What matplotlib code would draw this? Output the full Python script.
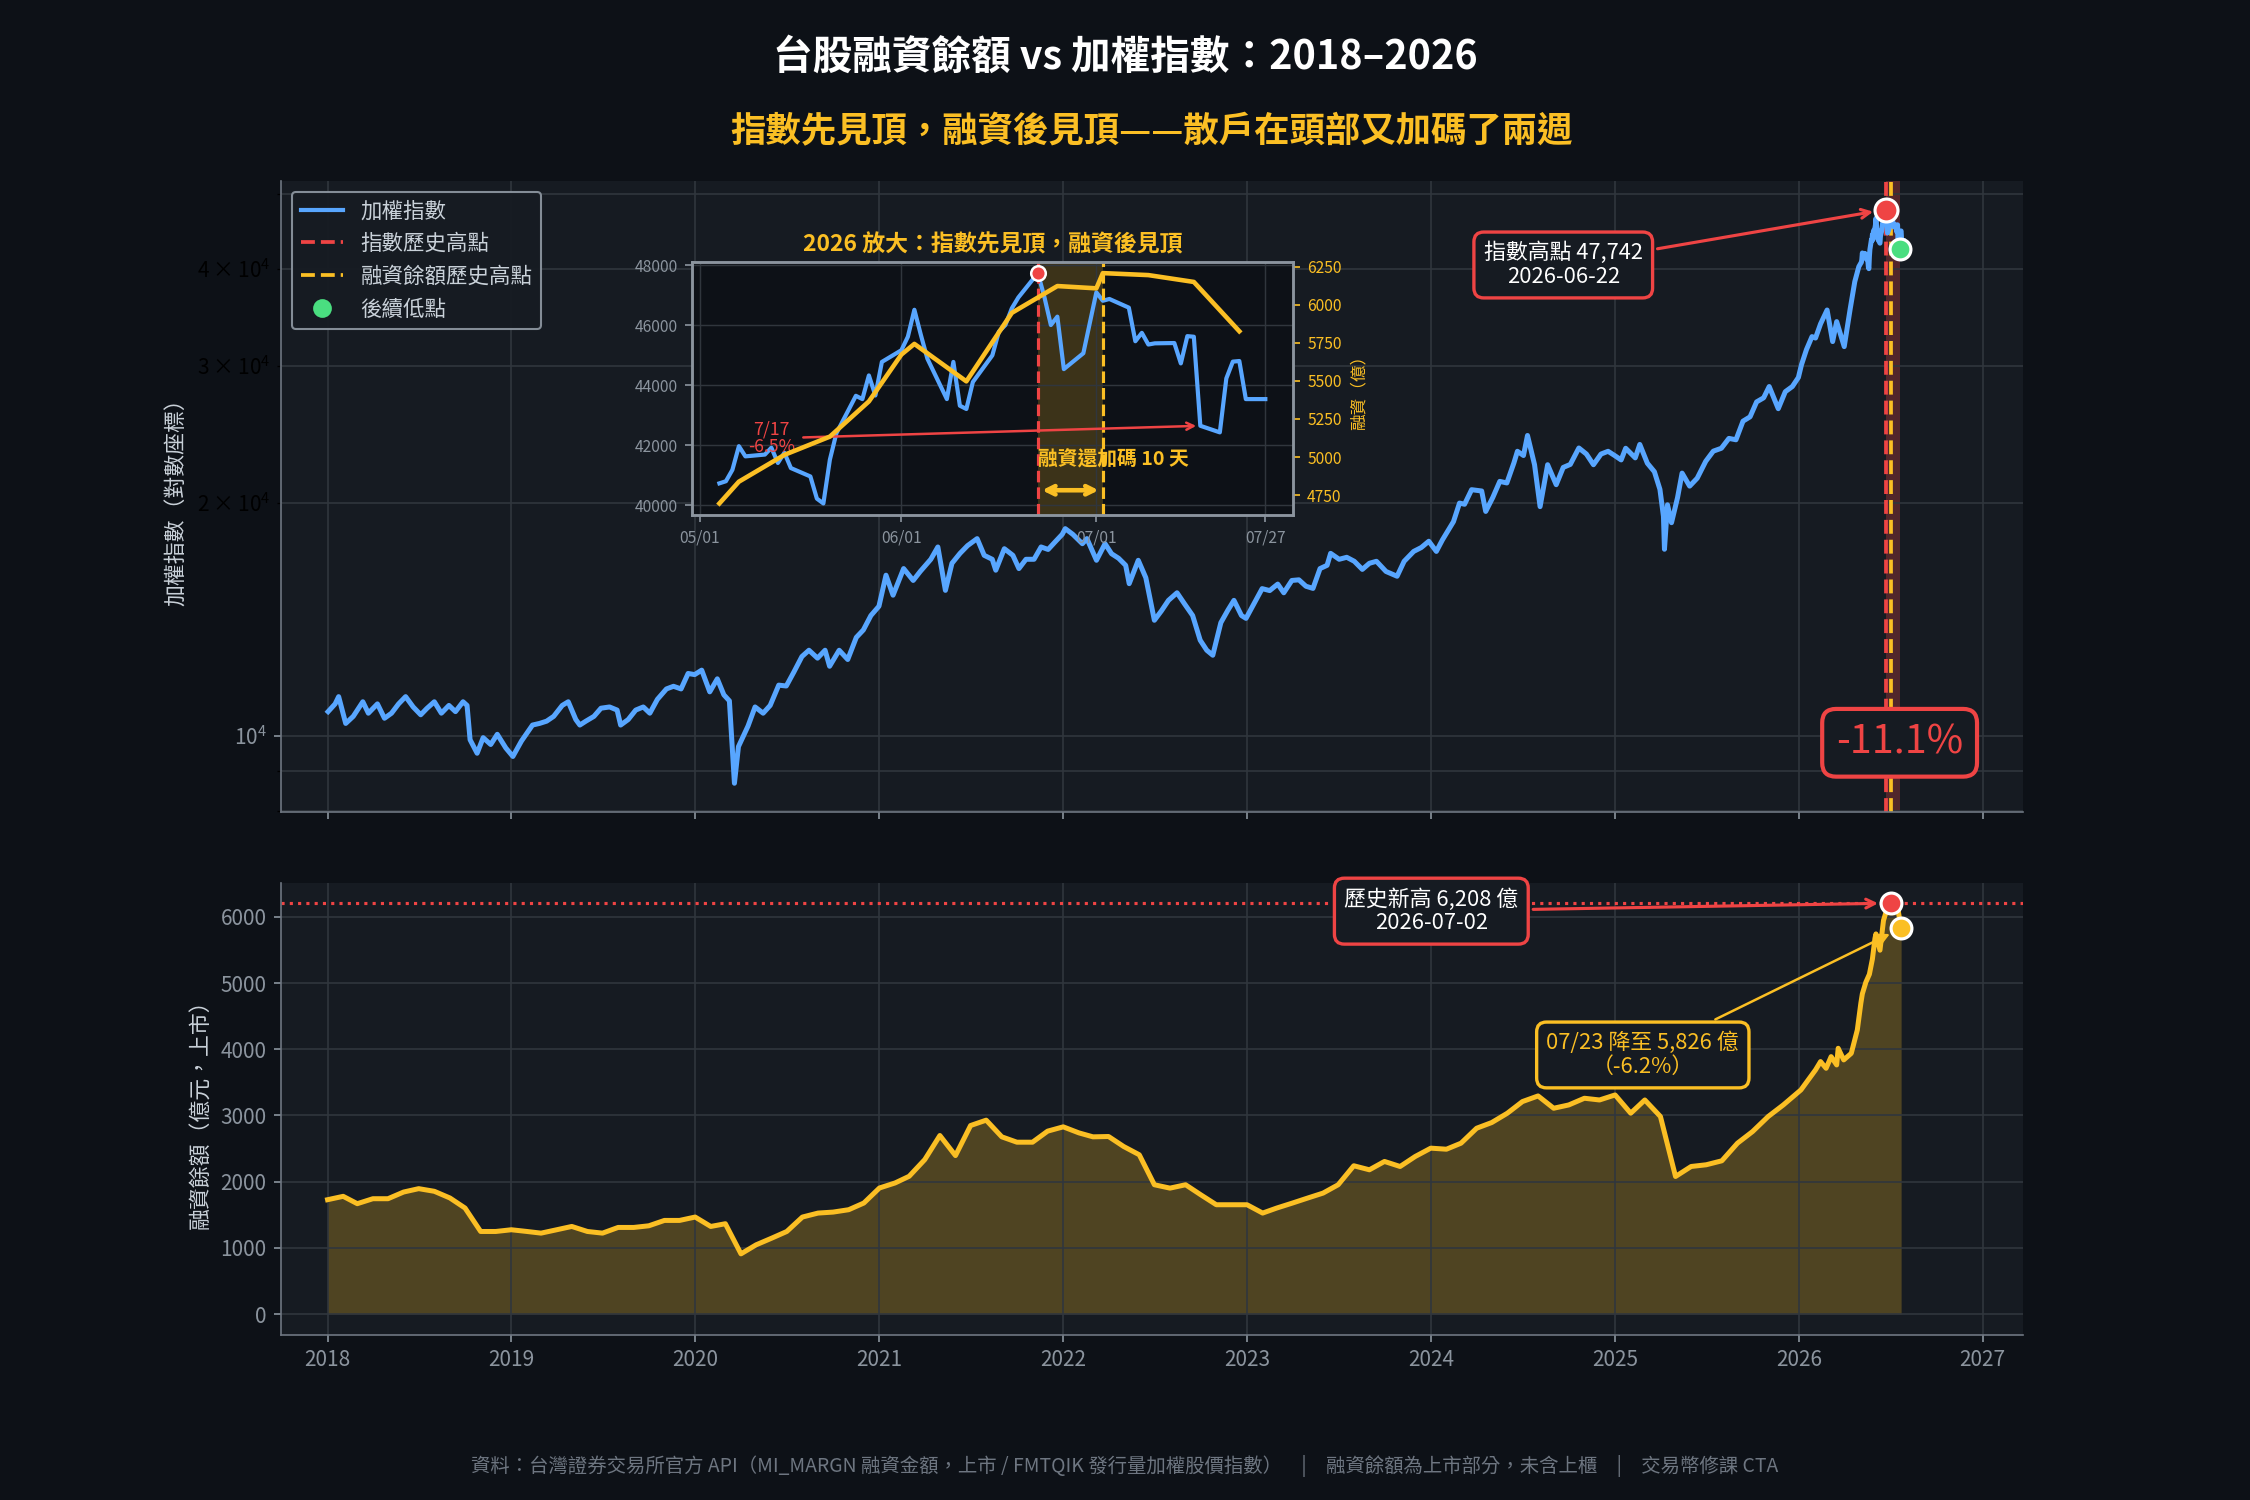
import numpy as np
import pandas as pd
import matplotlib
matplotlib.use("Agg")
import matplotlib.pyplot as plt
import matplotlib.dates as mdates
from matplotlib.lines import Line2D

plt.rcParams['font.family'] = ['Noto Sans CJK TC', 'DejaVu Sans']
plt.rcParams['axes.unicode_minus'] = False

# ---- 加權指數 ----
index_dates = [
    '2018-01-02', '2018-01-16', '2018-01-23', '2018-02-06', '2018-02-21', '2018-03-12', '2018-03-23',
    '2018-04-10', '2018-04-24', '2018-05-08', '2018-05-22', '2018-06-05', '2018-06-20', '2018-07-05',
    '2018-07-17', '2018-08-01', '2018-08-15', '2018-08-30', '2018-09-12', '2018-09-27', '2018-10-05',
    '2018-10-11', '2018-10-25', '2018-11-06', '2018-11-21', '2018-12-04', '2018-12-21',
    '2019-01-04', '2019-01-21', '2019-02-12', '2019-02-26', '2019-03-12', '2019-03-26', '2019-04-12',
    '2019-04-24', '2019-05-09', '2019-05-17', '2019-05-29', '2019-06-14', '2019-06-28', '2019-07-15',
    '2019-07-30', '2019-08-06', '2019-08-21', '2019-09-05', '2019-09-20', '2019-10-03', '2019-10-18',
    '2019-11-05', '2019-11-19', '2019-12-04', '2019-12-18', '2019-12-31',
    '2020-01-14', '2020-01-30', '2020-02-14', '2020-02-27', '2020-03-09', '2020-03-19', '2020-03-27',
    '2020-04-15', '2020-04-29', '2020-05-15', '2020-05-29', '2020-06-15', '2020-06-30', '2020-07-15',
    '2020-07-31', '2020-08-14', '2020-08-31', '2020-09-15', '2020-09-24', '2020-10-13', '2020-10-30',
    '2020-11-16', '2020-11-30', '2020-12-15', '2020-12-31',
    '2021-01-14', '2021-01-28', '2021-02-18', '2021-03-09', '2021-03-23', '2021-04-13', '2021-04-27',
    '2021-05-12', '2021-05-25', '2021-06-10', '2021-06-25', '2021-07-14', '2021-07-28', '2021-08-13',
    '2021-08-20', '2021-09-06', '2021-09-23', '2021-10-05', '2021-10-19', '2021-11-04', '2021-11-18',
    '2021-12-02', '2021-12-16', '2021-12-30',
    '2022-01-05', '2022-01-20', '2022-02-08', '2022-02-17', '2022-03-08', '2022-03-25', '2022-04-07',
    '2022-04-21', '2022-05-05', '2022-05-12', '2022-05-30', '2022-06-14', '2022-07-01', '2022-07-15',
    '2022-07-29', '2022-08-15', '2022-08-30', '2022-09-15', '2022-09-30', '2022-10-13', '2022-10-25',
    '2022-11-10', '2022-11-24', '2022-12-06', '2022-12-21', '2022-12-30',
    '2023-01-17', '2023-01-31', '2023-02-15', '2023-03-03', '2023-03-15', '2023-03-31', '2023-04-14',
    '2023-04-28', '2023-05-12', '2023-05-26', '2023-06-09', '2023-06-16', '2023-07-03', '2023-07-18',
    '2023-08-02', '2023-08-18', '2023-09-01', '2023-09-15', '2023-10-04', '2023-10-26', '2023-11-09',
    '2023-11-28', '2023-12-13', '2023-12-28',
    '2024-01-12', '2024-01-24', '2024-02-15', '2024-02-27', '2024-03-08', '2024-03-22', '2024-04-11',
    '2024-04-19', '2024-05-03', '2024-05-17', '2024-05-31', '2024-06-14', '2024-06-21', '2024-07-03',
    '2024-07-11', '2024-07-25', '2024-08-05', '2024-08-20', '2024-09-06', '2024-09-20', '2024-10-04',
    '2024-10-21', '2024-11-05', '2024-11-19', '2024-12-04', '2024-12-18', '2024-12-31',
    '2025-01-13', '2025-01-22', '2025-02-10', '2025-02-19', '2025-03-06', '2025-03-20', '2025-03-31',
    '2025-04-07', '2025-04-09', '2025-04-15', '2025-04-23', '2025-05-05', '2025-05-14', '2025-05-29',
    '2025-06-13', '2025-06-30', '2025-07-15', '2025-07-31', '2025-08-15', '2025-08-29', '2025-09-12',
    '2025-09-26', '2025-10-09', '2025-10-23', '2025-11-03', '2025-11-21', '2025-12-05', '2025-12-19',
    '2025-12-31',
    '2026-01-06', '2026-01-16', '2026-01-27', '2026-02-03', '2026-02-13', '2026-02-26', '2026-03-09',
    '2026-03-17', '2026-04-01', '2026-04-13', '2026-04-22', '2026-04-30',
    '2026-05-04', '2026-05-05', '2026-05-06', '2026-05-07', '2026-05-08', '2026-05-11', '2026-05-12',
    '2026-05-13', '2026-05-14', '2026-05-15', '2026-05-18', '2026-05-19', '2026-05-20', '2026-05-21',
    '2026-05-22', '2026-05-25', '2026-05-26', '2026-05-27', '2026-05-28', '2026-05-29', '2026-06-01',
    '2026-06-02', '2026-06-03', '2026-06-04', '2026-06-05', '2026-06-08', '2026-06-09', '2026-06-10',
    '2026-06-11', '2026-06-12', '2026-06-15', '2026-06-16', '2026-06-17', '2026-06-18', '2026-06-19',
    '2026-06-22', '2026-06-23', '2026-06-24', '2026-06-25', '2026-06-26', '2026-06-29', '2026-07-01',
    '2026-07-02', '2026-07-03', '2026-07-06', '2026-07-07', '2026-07-08', '2026-07-09', '2026-07-10',
    '2026-07-13', '2026-07-14', '2026-07-15', '2026-07-16', '2026-07-17', '2026-07-20', '2026-07-21',
    '2026-07-22', '2026-07-23', '2026-07-24', '2026-07-27',
]
index_values = [
    10750, 11000, 11240, 10380, 10600, 11070, 10700,
    11000, 10540, 10700, 11000, 11240, 10900, 10650,
    10850, 11070, 10700, 10950, 10750, 11070, 10950,
    9890, 9500, 9950, 9750, 10050, 9650,
    9410, 9850, 10330, 10380, 10450, 10600, 10950,
    11070, 10500, 10330, 10450, 10600, 10860, 10900,
    10800, 10330, 10500, 10800, 10900, 10700, 11150,
    11500, 11590, 11500, 12040, 12000,
    12160, 11400, 11850, 11300, 11100, 8690, 9690,
    10300, 10900, 10700, 10950, 11630, 11600, 12090,
    12660, 12900, 12600, 12900, 12300, 12900, 12550,
    13400, 13700, 14300, 14700,
    16120, 15190, 16440, 15870, 16300, 16900, 17530,
    15410, 16700, 17200, 17600, 17970, 17100, 16900,
    16360, 17440, 17100, 16440, 16900, 16900, 17530,
    17400, 17800, 18200,
    18510, 18200, 17700, 17970, 16850, 17700, 17180,
    16950, 16600, 15720, 16850, 16000, 14100, 14500,
    14960, 15300, 14800, 14300, 13290, 12900, 12710,
    14000, 14530, 14960, 14300, 14180,
    14900, 15490, 15400, 15700, 15300, 15870, 15900,
    15600, 15500, 16440, 16600, 17200, 16900, 17000,
    16800, 16400, 16700, 16800, 16300, 16070, 16800,
    17300, 17500, 17830,
    17300, 17900, 18900, 19970, 19900, 20780, 20700,
    19480, 20300, 21300, 21200, 22500, 23290, 23000,
    24410, 22380, 19760, 22380, 21090, 22200, 22400,
    23520, 23100, 22380, 23100, 23290, 23000,
    22700, 23500, 22840, 23770, 22480, 21920, 20800,
    19200, 17410, 19870, 18840, 20300, 21830, 21000,
    21500, 22610, 23300, 23500, 24200, 24100, 25470,
    25800, 26970, 27300, 28230, 26430, 27800, 28230,
    29000,
    30100, 31500, 32740, 32600, 34000, 35430, 32260,
    34230, 31780, 35600, 38550, 40300,
    40730, 40800, 41180, 41970, 41630, 41690, 41920,
    41410, 41750, 41240, 40960, 40220, 40060, 41520,
    42400, 43650, 43540, 44330, 43660, 44780, 45170,
    45620, 46520, 45680, 44890, 43540, 44780, 43320,
    43210, 44110, 45000, 45790, 46010, 46570, 46930,
    47742, 46950, 46010, 46290, 44540, 45070, 47100,
    46820, 46880, 46590, 45470, 45750, 45360, 45400,
    45410, 44730, 45640, 45620, 42650, 42430, 44230,
    44790, 44810, 43540, 43540,
]

# ---- 上市融資餘額 (億元) ----
margin_monthly = [
    1727, 1778, 1667, 1742, 1742, 1843, 1894, 1854, 1753, 1601, 1247, 1247,   # 2018
    1273, 1247, 1222, 1273, 1323, 1247, 1222, 1308, 1308, 1333, 1414, 1414,   # 2019
    1465, 1323, 1364, 909, 1045, 1146, 1247, 1465, 1525, 1540, 1576, 1677,    # 2020
    1904, 1980, 2081, 2333, 2697, 2394, 2848, 2929, 2677, 2596, 2596, 2763,   # 2021
    2828, 2737, 2677, 2682, 2531, 2406, 1953, 1902, 1953, 1802, 1651, 1651,   # 2022
    1651, 1525, 1601, 1676, 1751, 1827, 1953, 2240, 2179, 2305, 2229, 2380,   # 2023
    2506, 2490, 2581, 2807, 2893, 3034, 3210, 3295, 3109, 3159, 3260, 3234,   # 2024
    3310, 3034, 3234, 2984, 2078, 2229, 2255, 2315, 2581, 2757, 2984, 3159,   # 2025
]
margin_2026_dates = [
    '2026-01-05', '2026-02-03', '2026-02-13', '2026-02-24', '2026-03-06', '2026-03-17', '2026-03-20',
    '2026-03-31', '2026-04-15', '2026-04-27', '2026-05-04', '2026-05-07', '2026-05-14', '2026-05-21',
    '2026-05-27', '2026-06-01', '2026-06-03', '2026-06-11', '2026-06-18', '2026-06-25', '2026-07-01',
    '2026-07-02', '2026-07-09', '2026-07-16', '2026-07-23',
]
margin_2026_values = [
    3386, 3688, 3814, 3713, 3889, 3763, 4015,
    3839, 3939, 4292, 4695, 4838, 5014, 5134,
    5365, 5673, 5743, 5497, 5947, 6123, 6108,
    6208, 6195, 6150, 5826,
]

zoom_start = '2026-05-01'
zoom_ticks = ['2026-05-01', '2026-06-01', '2026-07-01', '2026-07-27']

# ---- colours ----
BG = '#0d1117'
AX_BG = '#161b22'
GRID = '#30363d'
SPINE = '#6e7681'
TXT = '#c9d1d9'
TICK = '#8b949e'
BLUE = '#58a6ff'
RED = '#ef4444'
GOLD = '#fbbf24'
GREEN = '#4ade80'

idx = pd.Series(index_values, index=pd.to_datetime(index_dates))
margin = pd.concat([
    pd.Series(margin_monthly, index=pd.date_range('2018-01-01', periods=len(margin_monthly), freq='MS')),
    pd.Series(margin_2026_values, index=pd.to_datetime(margin_2026_dates)),
])

peak_date, peak_val = idx.idxmax(), idx.max()
after = idx[idx.index > peak_date]
low_date, low_val = after.idxmin(), after.min()
drop = (low_val / peak_val - 1) * 100

m_peak_date, m_peak = margin.idxmax(), margin.max()
m_last_date, m_last = margin.index[-1], margin.iloc[-1]
m_chg = (m_last / m_peak - 1) * 100
lag_days = (m_peak_date - peak_date).days

z_idx = idx[idx.index >= zoom_start]
z_margin = margin[margin.index >= zoom_start]
day_chg = z_idx.pct_change()
worst_date = day_chg.idxmin()

fig = plt.figure(figsize=(15, 10), dpi=150, facecolor=BG)
ax1 = fig.add_axes([0.125, 0.4587, 0.7741, 0.4207])
ax2 = fig.add_axes([0.125, 0.1103, 0.7741, 0.3013], sharex=ax1)

for ax in (ax1, ax2):
    ax.set_facecolor(AX_BG)
    for s in ('top', 'right'):
        ax.spines[s].set_visible(False)
    for s in ('left', 'bottom'):
        ax.spines[s].set_color(SPINE)
    ax.tick_params(colors=TICK, labelsize=10)
    ax.xaxis.set_major_locator(mdates.YearLocator())
    ax.xaxis.set_major_formatter(mdates.DateFormatter('%Y'))

# ---- top: index, log scale ----
ax1.set_yscale('log')
ax1.grid(True, which='both', axis='y', color=GRID, lw=0.8)
ax1.grid(True, axis='x', color=GRID, lw=0.8)
ax1.axvspan(peak_date, low_date, color=RED, alpha=0.28, lw=0)
ax1.plot(idx.index, idx.values, color=BLUE, lw=2.4, zorder=3)
ax1.axvline(peak_date, color=RED, ls='--', lw=1.8, zorder=2)
ax1.axvline(m_peak_date, color=GOLD, ls='--', lw=1.8, zorder=2)
ax1.plot([peak_date], [peak_val], 'o', ms=11, mfc=RED, mec='white', mew=1.5, zorder=5)
ax1.plot([low_date], [low_val], 'o', ms=10, mfc=GREEN, mec='white', mew=1.5, zorder=5)
ax1.set_xlim(pd.Timestamp('2017-10-01'), pd.Timestamp('2027-03-22'))
ax1.tick_params(labelbottom=False)
ax1.set_ylabel('加權指數（對數座標）', color=TXT, fontsize=10.5)

ax1.annotate(f'指數高點 {peak_val:,.0f}\n{peak_date:%Y-%m-%d}',
             xy=(peak_date, peak_val), xytext=(pd.Timestamp('2024-09-20'), 40500),
             ha='center', va='center', color='white', fontsize=10.5, linespacing=1.1,
             bbox=dict(boxstyle='round,pad=0.45', fc=AX_BG, ec=RED, lw=1.6),
             arrowprops=dict(arrowstyle='->', color=RED, lw=1.5, shrinkB=6), zorder=6)
ax1.text(low_date, 9800, f'{drop:.1f}%', ha='center', va='center', color=RED, fontsize=19,
         bbox=dict(boxstyle='round,pad=0.35', fc=AX_BG, ec=RED, lw=2), zorder=6)

handles = [
    Line2D([], [], color=BLUE, lw=2),
    Line2D([], [], color=RED, ls='--', lw=1.8),
    Line2D([], [], color=GOLD, ls='--', lw=1.8),
    Line2D([], [], ls='', marker='o', ms=8, mfc=GREEN, mec=GREEN),
]
ax1.legend(handles, ['加權指數', '指數歷史高點', '融資餘額歷史高點', '後續低點'],
           loc='upper left', fontsize=10.3, facecolor=AX_BG, edgecolor=TICK,
           labelcolor=TXT, framealpha=0.95)

# ---- bottom: margin balance ----
ax2.grid(True, color=GRID, lw=0.8)
ax2.fill_between(margin.index, margin.values, 0, color=GOLD, alpha=0.25, lw=0)
ax2.plot(margin.index, margin.values, color=GOLD, lw=2.4)
ax2.axhline(m_peak, color=RED, ls=':', lw=1.5)
ax2.plot([m_peak_date], [m_peak], 'o', ms=10, mfc=RED, mec='white', mew=1.5, zorder=5)
ax2.plot([m_last_date], [m_last], 'o', ms=10, mfc=GOLD, mec='white', mew=1.5, zorder=5)
ax2.set_ylabel('融資餘額（億元，上市）', color=TXT, fontsize=10.5)

ax2.annotate(f'歷史新高 {m_peak:,.0f} 億\n{m_peak_date:%Y-%m-%d}',
             xy=(m_peak_date, m_peak), xytext=(pd.Timestamp('2024-01-02'), 6087),
             ha='center', va='center', color='white', fontsize=10.5, linespacing=1.1,
             bbox=dict(boxstyle='round,pad=0.45', fc=AX_BG, ec=RED, lw=1.6),
             arrowprops=dict(arrowstyle='->', color=RED, lw=1.5, shrinkB=6), zorder=6)
ax2.annotate(f'{m_last_date:%m/%d} 降至 {m_last:,.0f} 億\n（{m_chg:.1f}%）',
             xy=(m_last_date, m_last), xytext=(pd.Timestamp('2025-02-25'), 3914),
             ha='center', va='center', color=GOLD, fontsize=10.5, linespacing=1.1,
             bbox=dict(boxstyle='round,pad=0.45', fc=AX_BG, ec=GOLD, lw=1.6),
             arrowprops=dict(arrowstyle='->', color=GOLD, lw=1.2, shrinkB=6), zorder=6)

# ---- inset: 2026 zoom ----
axi = fig.add_axes([0.3076, 0.6567, 0.2669, 0.1689])
axi.set_facecolor(BG)
axi.grid(True, color=GRID, lw=0.7)
axi.axvspan(peak_date, m_peak_date, color=GOLD, alpha=0.2, lw=0)
axi.plot(z_idx.index, z_idx.values, color=BLUE, lw=2)
axi.axvline(peak_date, color=RED, ls='--', lw=1.5)
axi.axvline(m_peak_date, color=GOLD, ls='--', lw=1.5)
axi.plot([peak_date], [peak_val], 'o', ms=7, mfc=RED, mec='white', mew=1.2, zorder=5)
axi.set_xticks(pd.to_datetime(zoom_ticks))
axi.xaxis.set_major_formatter(mdates.DateFormatter('%m/%d'))
axi.tick_params(colors=TICK, labelsize=7.5)
axi.set_title('2026 放大：指數先見頂，融資後見頂', color=GOLD, fontsize=11,
              fontweight='bold', pad=5)

axr = axi.twinx()
axr.plot(z_margin.index, z_margin.values, color=GOLD, lw=2.2)
axr.tick_params(colors=GOLD, labelsize=7.5)
axr.set_ylabel('融資（億）', color=GOLD, fontsize=8)
for a in (axi, axr):
    for s in a.spines.values():
        s.set_color(TICK)
        s.set_linewidth(1.2)

axi.annotate('', xy=(m_peak_date, 40500), xytext=(peak_date, 40500),
             arrowprops=dict(arrowstyle='<->', color=GOLD, lw=2.2))
axi.text(peak_date, 41520, f'融資還加碼 {lag_days} 天', ha='left', va='center',
         color=GOLD, fontsize=9.5, fontweight='bold')
axi.annotate(f'{worst_date.month}/{worst_date.day}\n{day_chg.min() * 100:.1f}%',
             xy=(worst_date, z_idx[worst_date]), xytext=(pd.Timestamp('2026-05-12'), 42230),
             ha='center', va='center', color=RED, fontsize=8.5, linespacing=1.0,
             arrowprops=dict(arrowstyle='->', color=RED, lw=1.2))

# ---- titles / footer ----
fig.text(0.5, 0.962, '台股融資餘額 vs 加權指數：2018–2026', ha='center', va='center',
         color='white', fontsize=19, fontweight='bold')
fig.text(0.512, 0.912, '指數先見頂，融資後見頂——散戶在頭部又加碼了兩週', ha='center', va='center',
         color=GOLD, fontsize=17, fontweight='bold')
fig.text(0.5, 0.0227,
         '資料：台灣證券交易所官方 API（MI_MARGN 融資金額，上市 / FMTQIK 發行量加權股價指數）'
         '\u3000|\u3000融資餘額為上市部分，未含上櫃\u3000|\u3000交易幣修課 CTA',
         ha='center', va='center', color='#6e7681', fontsize=9.3)

fig.savefig('out.png', dpi=150, facecolor=BG)
